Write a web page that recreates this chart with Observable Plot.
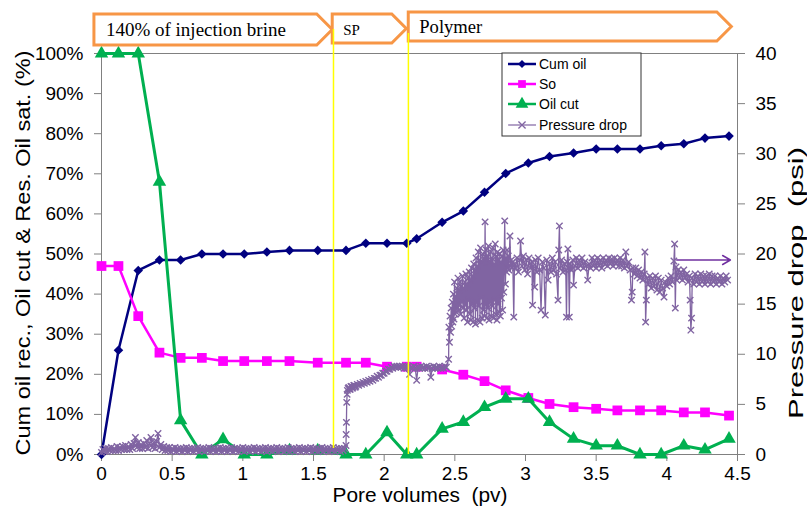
<!DOCTYPE html>
<html><head><meta charset="utf-8">
<script src="https://cdn.jsdelivr.net/npm/d3@7"></script>
<script src="https://cdn.jsdelivr.net/npm/@observablehq/plot@0.6"></script>
<style>html,body{margin:0;padding:0;background:#fff;}</style>
</head><body><div id="chart"></div>
<script>
// ---- data ----
const poreVolumes = [0,0.12,0.26,0.41,0.56,0.71,0.86,1.01,1.17,1.33,1.53,1.73,1.87,2.02,2.16,2.23,2.41,2.56,2.71,2.86,3.02,3.17,3.34,3.50,3.65,3.81,3.96,4.12,4.27,4.44];
const cumOil = [0,26,45.9,48.5,48.5,50,50,50,50.5,50.9,50.9,50.9,52.7,52.7,52.7,53.8,57.9,60.7,65.4,70.1,72.7,74.3,75.2,76.2,76.2,76.2,77,77.5,78.9,79.4];
const oilSat = [47,47,34.5,25.4,24.1,24.1,23.3,23.3,23.3,23.3,22.9,22.9,22.9,21.9,21.9,21.9,21.2,19.9,18.3,16,14.1,12.6,11.8,11.4,11,11,11,10.5,10.5,9.7];
const oilCut = [100,100,100,68,8.5,0,3.8,0,0,1,1,0,0,5.5,0,0,6.4,8.1,11.8,13.9,13.9,8.1,3.9,2.2,2.2,0,0,2.2,1.2,3.9];
// pressure drop (psi): [pore volume, psi]
const pressureDrop = [
[0,0.2],[0.01,0.5],[0.02,0.3],[0.03,0.6],[0.04,0.3],[0.05,0.6],[0.06,0.4],[0.07,0.7],[0.08,0.4],[0.09,0.6],[0.10,0.4],[0.11,0.8],[0.12,0.4],[0.13,0.7],[0.14,0.5],[0.15,0.8],[0.16,0.5],[0.17,0.9],[0.18,0.5],[0.19,0.8],[0.20,0.5],[0.21,1.0],[0.22,0.6],[0.23,1.1],[0.24,1.7],[0.25,0.7],[0.26,1.2],[0.27,0.6],[0.28,1.0],[0.29,0.6],[0.30,1.1],[0.31,0.7],[0.32,1.4],[0.33,0.6],[0.34,1.1],[0.35,1.7],[0.36,0.7],[0.37,1.2],[0.38,0.6],[0.39,1.3],[0.40,2.1],[0.41,0.7],[0.42,1.0],[0.43,0.5],[0.44,0.8],[0.45,0.4],[0.46,0.7],[0.47,0.4],[0.48,0.7],[0.49,0.3],[0.50,0.6],[0.51,0.4],[0.52,0.7],[0.53,0.3],[0.54,0.6],[0.55,0.4],[0.56,0.6],[0.57,0.3],[0.58,0.6],[0.59,0.4],[0.60,0.7],[0.61,0.3],[0.62,0.6],[0.63,0.4],[0.64,0.6],[0.65,0.3],[0.66,0.6],[0.67,0.4],[0.68,0.7],[0.69,0.3],[0.70,0.6],[0.71,0.4],[0.72,0.6],[0.73,0.3],[0.74,0.6],[0.75,0.4],[0.76,0.7],[0.77,0.3],[0.78,0.6],[0.79,0.4],[0.80,0.6],[0.81,0.3],[0.82,0.6],[0.83,0.4],[0.84,0.7],[0.85,0.3],[0.86,0.6],[0.87,0.4],[0.88,0.6],[0.89,0.3],[0.90,0.6],[0.91,0.4],[0.92,0.7],[0.93,0.3],[0.94,0.6],[0.95,0.4],[0.96,0.6],[0.97,0.3],[0.98,0.6],[0.99,0.4],[1.00,0.7],[1.01,0.3],[1.02,0.6],[1.03,0.4],[1.04,0.6],[1.05,0.3],[1.06,0.6],[1.07,0.4],[1.08,0.7],[1.09,0.3],[1.10,0.6],[1.11,0.4],[1.12,0.6],[1.13,0.3],[1.14,0.6],[1.15,0.4],[1.16,0.7],[1.17,0.3],[1.18,0.6],[1.19,0.4],[1.20,0.6],[1.21,0.3],[1.22,0.6],[1.23,0.4],[1.24,0.7],[1.25,0.3],[1.26,0.6],[1.27,0.4],[1.28,0.6],[1.29,0.3],[1.30,0.6],[1.31,0.4],[1.32,0.7],[1.33,0.3],[1.34,0.6],[1.35,0.4],[1.36,0.6],[1.37,0.3],[1.38,0.6],[1.39,0.4],[1.40,0.7],[1.41,0.3],[1.42,0.6],[1.43,0.4],[1.44,0.6],[1.45,0.3],[1.46,0.6],[1.47,0.4],[1.48,0.7],[1.49,0.3],[1.50,0.6],[1.51,0.4],[1.52,0.6],[1.53,0.3],[1.54,0.6],[1.55,0.4],[1.56,0.7],[1.57,0.3],[1.58,0.6],[1.59,0.4],[1.60,0.6],[1.61,0.3],[1.62,0.6],[1.63,0.4],[1.64,0.7],[1.65,0.3],[1.66,0.6],[1.67,0.4],[1.68,0.6],[1.69,0.3],[1.70,0.6],[1.71,0.4],[1.72,0.6],[1.73,0.9],
[1.731,2.0],[1.733,3.2],[1.735,5.2],[1.738,6.0],[1.74,6.4],[1.745,6.6],[1.75,6.7],[1.755,6.5],[1.76,6.5],[1.765,6.8],[1.77,6.8],[1.775,6.6],[1.78,6.7],[1.785,6.9],[1.79,6.9],[1.795,6.7],[1.80,6.8],[1.81,7.0],[1.82,6.9],[1.83,7.1],[1.84,7.0],[1.85,7.2],[1.86,7.1],[1.87,7.3],[1.88,7.2],[1.89,7.4],[1.90,7.3],[1.91,7.5],[1.92,7.4],[1.93,7.6],[1.94,7.6],[1.95,7.8],[1.96,7.7],[1.97,7.9],[1.98,7.9],[1.99,8.1],[2.00,8.1],[2.01,8.3],[2.02,8.3],[2.03,8.5],[2.04,8.5],[2.05,8.7],[2.06,8.6],[2.07,8.8],[2.08,8.7],[2.09,8.8],[2.10,8.7],[2.11,8.8],[2.12,8.7],[2.13,8.8],[2.14,8.6],[2.15,8.8],[2.16,8.6],[2.17,8.8],[2.18,8.0],[2.19,8.7],[2.20,8.6],[2.21,8.8],[2.22,8.6],[2.23,7.4],[2.24,8.7],[2.25,8.6],[2.26,8.8],[2.27,8.6],[2.28,8.7],[2.29,8.6],[2.30,8.8],[2.31,8.6],[2.32,8.7],[2.33,7.7],[2.34,8.6],[2.35,8.8],[2.36,8.6],[2.37,8.7],[2.38,8.6],[2.39,8.8],[2.40,8.6],[2.41,8.7],[2.42,8.6],[2.43,8.8],[2.44,8.7],
[2.456,9.5],[2.458,12.7],[2.462,11.2],[2.466,13.8],[2.470,12.2],[2.474,14.6],[2.478,12.8],[2.482,15.2],[2.486,13.2],[2.490,16.0],[2.494,13.5],[2.498,17.2],[2.502,14.0],[2.506,15.8],[2.510,14.2],[2.514,16.6],[2.518,14.6],[2.522,17.6],[2.526,14.4],[2.530,16.4],[2.534,15.0],[2.538,17.2],[2.542,14.0],[2.546,16.8],[2.550,15.2],[2.554,17.8],[2.558,14.6],[2.562,16.6],[2.566,13.6],[2.570,17.2],[2.574,15.0],[2.578,18.0],[2.582,14.4],[2.586,17.0],[2.590,13.2],[2.594,17.6],[2.598,15.4],[2.602,18.2],[2.606,14.0],[2.610,17.4],[2.614,13.4],[2.618,18.6],[2.622,15.0],[2.626,17.8],[2.630,13.2],[2.634,19.0],[2.638,14.6],[2.642,18.4],[2.646,13.0],[2.650,19.6],[2.654,15.2],[2.658,18.8],[2.662,13.4],[2.666,20.2],[2.670,14.8],[2.674,19.4],[2.678,13.2],[2.682,20.6],[2.686,15.6],[2.690,19.2],[2.694,13.6],[2.698,20.0],[2.702,14.4],[2.706,19.6],[2.710,13.8],[2.714,23.2],[2.718,15.0],[2.722,20.4],[2.726,13.6],[2.730,19.8],[2.734,14.6],[2.738,20.8],[2.742,13.4],[2.746,19.2],[2.750,15.2],[2.754,20.2],[2.758,13.8],[2.762,19.6],[2.766,14.8],[2.770,20.6],[2.774,13.6],[2.778,19.0],[2.782,15.4],[2.786,21.0],[2.790,14.0],[2.794,19.8],[2.798,13.4],[2.802,20.2],[2.806,15.0],[2.810,19.4],[2.814,14.2],[2.818,20.0],[2.822,13.8],[2.826,19.2],[2.830,15.6],[2.834,19.8],[2.838,14.4],[2.842,20.4],[2.846,16.2],[2.853,23.3],[2.858,17.0],[2.862,19.6],[2.866,18.2],[2.870,20.4],[2.874,18.6],[2.878,19.8],[2.882,18.4],[2.890,21.8],[2.895,18.8],[2.900,19.4],[2.905,18.6],[2.910,19.2],[2.917,13.7],[2.922,19.0],[2.930,18.6],[2.940,19.6],[2.950,18.2],[2.960,19.4],[2.965,21.3],[2.975,18.8],
[2.985,19.8],[2.995,18.4],[3.005,19.4],[3.015,18.0],[3.025,19.6],[3.035,18.6],[3.045,19.2],[3.05,14.9],[3.055,18.8],[3.065,16.7],[3.07,19.4],[3.08,18.2],[3.09,19.6],[3.10,18.4],[3.11,14.4],[3.12,19.2],[3.13,18.6],[3.14,13.9],[3.15,19.4],[3.16,17.4],[3.17,19.0],[3.18,18.2],[3.19,19.6],[3.20,18.4],[3.21,19.2],[3.22,18.0],[3.23,15.4],[3.235,20.4],[3.24,22.8],[3.245,18.6],[3.255,19.4],[3.265,18.2],[3.275,19.0],[3.285,18.4],[3.29,13.7],[3.295,19.2],[3.30,20.5],[3.305,18.6],[3.31,13.7],[3.315,19.0],[3.325,18.4],[3.335,19.4],[3.34,16.9],[3.35,18.8],
[3.36,19.6],[3.37,18.6],[3.38,19.4],[3.39,18.8],[3.40,19.6],[3.41,18.6],[3.42,19.2],[3.43,18.8],[3.44,17.4],[3.45,19.0],[3.46,18.6],[3.47,19.6],[3.48,18.8],[3.49,19.4],[3.50,18.6],[3.51,19.6],[3.52,18.8],[3.53,19.4],[3.54,18.6],[3.55,19.6],[3.56,19.0],[3.57,19.4],[3.58,18.8],[3.59,19.6],[3.60,19.0],[3.61,19.5],[3.62,18.8],[3.63,19.6],[3.64,19.0],[3.65,19.4],[3.66,18.8],[3.67,19.6],[3.68,18.8],[3.69,19.4],[3.70,18.6],[3.71,20.2],[3.72,18.8],[3.73,19.2],[3.74,18.4],[3.75,15.4],[3.755,16.2],[3.76,18.6],[3.77,18.0],[3.78,18.6],[3.79,17.8],[3.80,18.4],[3.81,17.6],[3.82,18.2],[3.83,17.4],[3.84,18.0],[3.845,20.2],[3.85,13.2],[3.855,15.4],[3.86,17.6],[3.87,17.0],[3.88,17.8],[3.89,16.6],[3.90,17.6],[3.91,16.8],[3.92,17.8],[3.93,16.4],[3.94,17.6],[3.95,16.2],[3.96,17.4],[3.97,16.6],[3.98,15.7],[3.99,17.2],[4.00,16.8],[4.01,17.6],[4.02,17.0],[4.03,17.8],[4.04,17.2],[4.05,19.3],[4.055,21.0],[4.06,14.6],[4.065,18.7],[4.07,17.4],[4.08,18.4],[4.09,17.6],[4.10,18.2],[4.11,17.4],[4.12,18.4],[4.13,17.6],[4.14,18.0],[4.15,17.2],[4.16,17.8],[4.165,15.4],[4.17,12.4],[4.175,13.6],[4.18,17.6],[4.19,17.0],[4.20,18.0],[4.21,17.2],[4.22,17.8],[4.23,17.0],[4.24,18.0],[4.25,17.2],[4.26,17.8],[4.27,17.0],[4.28,17.8],[4.29,17.2],[4.30,18.0],[4.31,17.0],[4.32,17.8],[4.33,17.2],[4.34,17.8],[4.35,17.0],[4.36,17.6],[4.37,17.2],[4.38,17.8],[4.39,17.0],[4.40,17.6],[4.41,17.2],[4.42,17.8],[4.43,17.4]
];
const xTicks = [0,0.5,1,1.5,2,2.5,3,3.5,4,4.5];
const leftTicks = [0,10,20,30,40,50,60,70,80,90,100];
const rightTicksPsi = [0,5,10,15,20,25,30,35,40];
const phaseLabels = ["140% of injection brine","SP","Polymer"];
const phaseBounds = [[-0.05,1.636],[1.636,2.16],[2.174,4.46]];
const phaseChanges = [1.645,2.175];
const arrowNote = [{x1:4.07,x2:4.45,psi:19.4}];
const seriesNames = ["Cum oil","So","Oil cut","Pressure drop"];

// ---- build ----
const PSI = 2.5; // 40 psi == 100 %
const rows = poreVolumes.map((pv,i)=>({pv, cum:cumOil[i], so:oilSat[i], cut:oilCut[i]}));
const pres = pressureDrop.map(([pv,p])=>({pv, y:p*PSI}));
const C = {cum:"#000080", so:"#FF00FF", cut:"#00B050", pres:"#8064A2", arrow:"#7030A0", yellow:"#FFFF00", orange:"#F79646"};

const plot = Plot.plot({
  width: 807, height: 506,
  marginLeft: 101, marginRight: 70, marginTop: 53, marginBottom: 52,
  style: {fontFamily: "'Liberation Sans', Arial, sans-serif", background: "#fff", color: "#000"},
  x: {domain: [0, 4.5]},
  y: {domain: [0, 100]},
  marks: [
    Plot.frame({stroke: "#808080"}),
    Plot.axisX(xTicks, {tickSize: 7, tickPadding: 5, fontSize: 19, label: null, tickFormat: d => String(d), stroke: "#808080"}),
    Plot.axisY(leftTicks, {anchor: "left", tickSize: 7, tickPadding: 11, fontSize: 19, label: null, tickFormat: d => d + "%", stroke: "#808080"}),
    Plot.axisY(rightTicksPsi.map(d => d*PSI), {anchor: "right", tickSize: 7, tickPadding: 11, fontSize: 19, label: null, tickFormat: d => String(d/PSI), stroke: "#808080"}),
    Plot.line(rows, {x: "pv", y: "cum", stroke: C.cum, strokeWidth: 2.5}),
    Plot.dot(rows, {x: "pv", y: "cum", symbol: "diamond2", r: 4.3, fill: C.cum}),
    Plot.line(rows, {x: "pv", y: "so", stroke: C.so, strokeWidth: 2.5}),
    Plot.dot(rows, {x: "pv", y: "so", symbol: "square", r: 5.5, fill: C.so}),
    Plot.line(rows, {x: "pv", y: "cut", stroke: C.cut, strokeWidth: 3}),
    Plot.dot(rows, {x: "pv", y: "cut", symbol: "triangle", r: 5, fill: C.cut}),
    Plot.line(pres, {x: "pv", y: "y", stroke: C.pres, strokeWidth: 1.3}),
    Plot.dot(pres, {x: "pv", y: "y", symbol: "times", r: 3, stroke: C.pres, strokeWidth: 1.4}),
    Plot.arrow(arrowNote, {x1: "x1", x2: "x2", y1: d => d.psi*PSI, y2: d => d.psi*PSI, stroke: C.arrow, strokeWidth: 1.5, headLength: 9})
  ]
});
document.getElementById("chart").appendChild(plot);

const xs = plot.scale("x"), ys = plot.scale("y");
const svg = d3.select(plot);

// phase banner
const g = svg.append("g").attr("text-anchor","start");
const tops = [14,14,12], bots = [45,43,41], fs = [19,15,18.6];
phaseBounds.forEach(([a,b],i)=>{
  const x0 = xs.apply(a), x1 = xs.apply(b), t = tops[i], bt = bots[i], m = (t+bt)/2, d = (bt-t)/2;
  g.append("path").attr("d", `M${x0},${t}H${x1-d}L${x1},${m}L${x1-d},${bt}H${x0}Z`)
    .attr("fill","#fff").attr("stroke",C.orange).attr("stroke-width",3).attr("stroke-linejoin","miter");
  g.append("text").attr("x", x0 + (i==0?12:11)).attr("y", m+6).attr("text-anchor","start").text(phaseLabels[i])
    .attr("font-family","'Liberation Serif', 'Times New Roman', serif").attr("font-size", fs[i]).attr("fill","#000");
});
// yellow phase-change lines
const yStart = [29,33], yEnd = [ys.apply(1.5), ys.apply(0)];
phaseChanges.forEach((pv,i)=>{
  svg.append("line").attr("x1",xs.apply(pv)).attr("x2",xs.apply(pv)).attr("y1",yStart[i]).attr("y2",yEnd[i])
    .attr("stroke",C.yellow).attr("stroke-width",1.5);
});

// axis titles
const tf = "'Liberation Sans', Arial, sans-serif";
svg.append("text").attr("transform","translate(30,253) rotate(-90)").attr("text-anchor","middle")
  .attr("font-family",tf).attr("font-size",20).attr("textLength",405).attr("lengthAdjust","spacingAndGlyphs")
  .text("Cum oil rec., Oil cut & Res. Oil sat. (%)");
svg.append("text").attr("transform","translate(803,283) rotate(-90)").attr("text-anchor","middle")
  .attr("font-family",tf).attr("font-size",20).attr("textLength",272).attr("lengthAdjust","spacingAndGlyphs")
  .text("Pressure drop  (psi)");
svg.append("text").attr("x",420).attr("y",502).attr("text-anchor","middle")
  .attr("font-family",tf).attr("font-size",20).attr("textLength",175).attr("lengthAdjust","spacingAndGlyphs")
  .text("Pore volumes  (pv)");

// legend
const lg = svg.append("g").attr("text-anchor","start");
lg.append("rect").attr("x",502).attr("y",53).attr("width",139).attr("height",83).attr("fill","#fff").attr("stroke","#333").attr("stroke-width",1);
const legY = [64,84,104,125];
const legC = [C.cum, C.so, C.cut, C.pres];
const legSym = [d3.symbolDiamond2, d3.symbolSquare, d3.symbolTriangle, d3.symbolTimes];
const legSize = [40, 60, 70, 35];
seriesNames.forEach((s,i)=>{
  lg.append("line").attr("x1",508).attr("x2",536).attr("y1",legY[i]).attr("y2",legY[i]).attr("stroke",legC[i]).attr("stroke-width", i==3?1.2:2.5);
  const p = lg.append("path").attr("d", d3.symbol(legSym[i], legSize[i])()).attr("transform",`translate(522,${legY[i]})`);
  if (i==3) p.attr("fill","none").attr("stroke",legC[i]).attr("stroke-width",1.3); else p.attr("fill",legC[i]);
  lg.append("text").attr("x",539).attr("y",legY[i]+5).attr("text-anchor","start").attr("font-family",tf).attr("font-size",14).text(s);
});
</script>
</body></html>
